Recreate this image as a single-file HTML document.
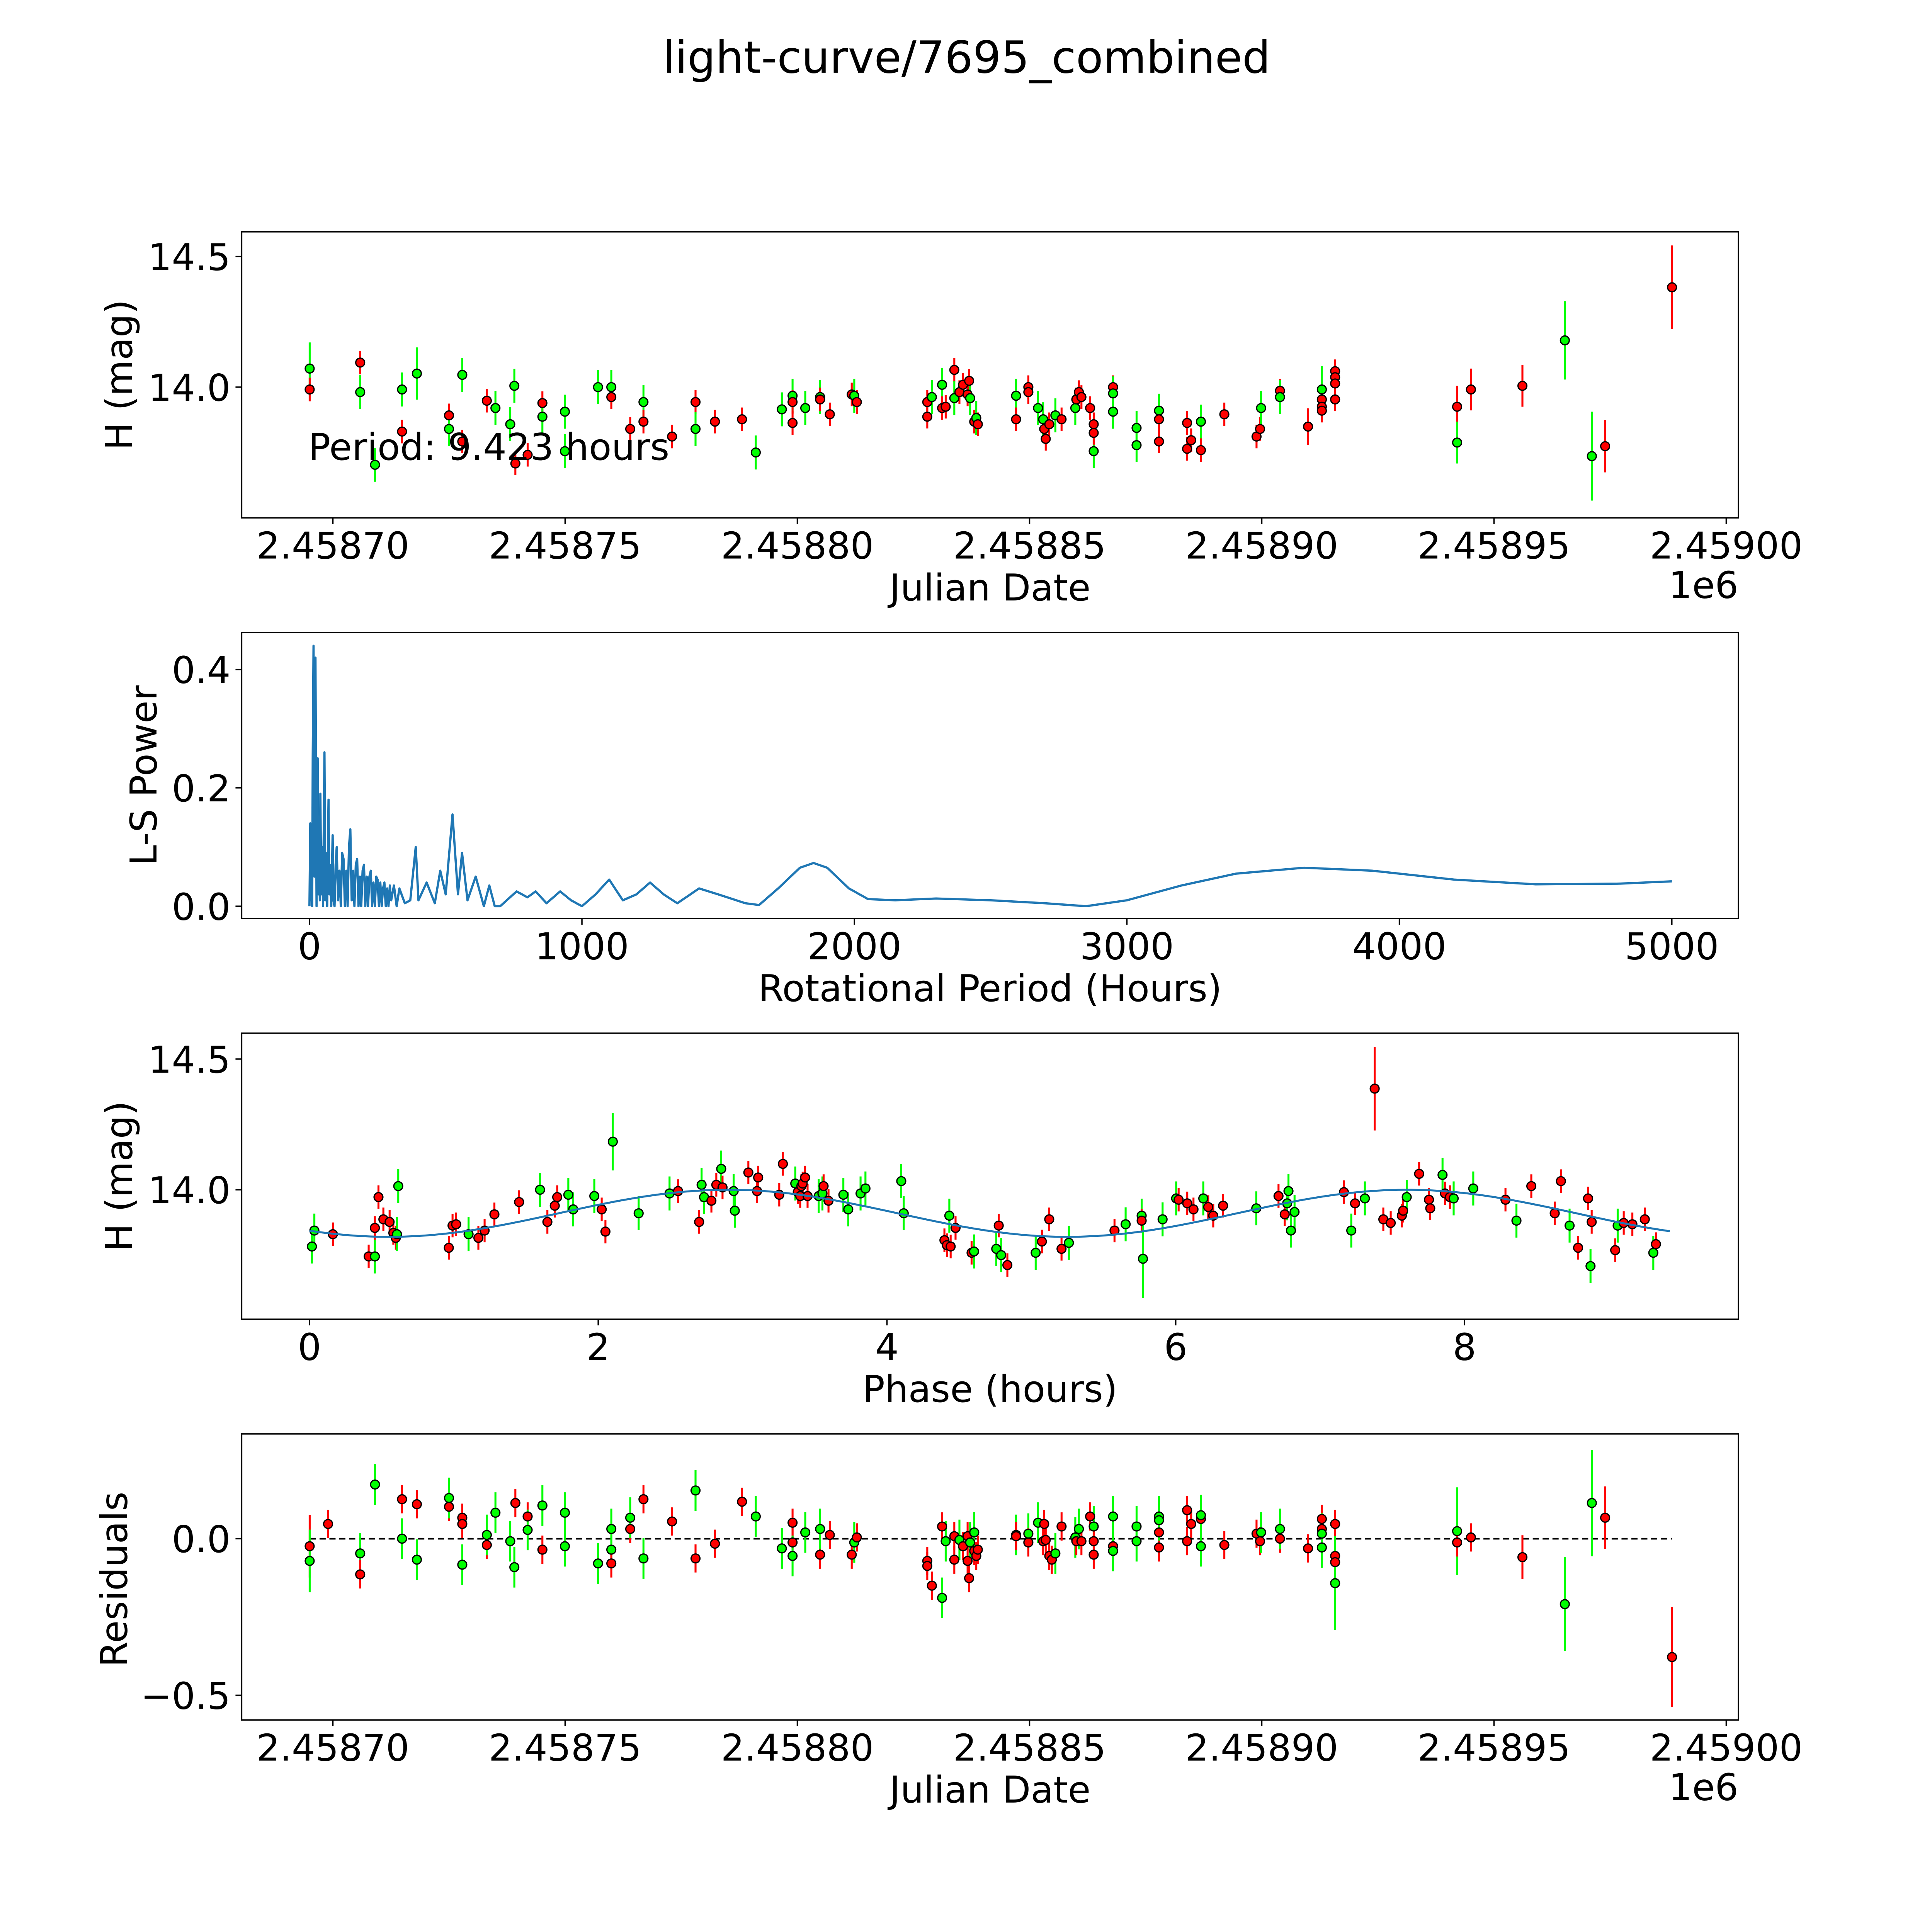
<!DOCTYPE html>
<html><head><meta charset="utf-8"><style>
html,body{margin:0;padding:0;background:#fff;overflow:hidden;width:100vw;height:100vh}
svg{display:block;position:absolute;left:0;top:0;width:100vw;height:100vh}
text{font-family:"DejaVu Sans","Liberation Sans",sans-serif;fill:#000}
</style></head><body>
<svg id="fig" xmlns="http://www.w3.org/2000/svg" viewBox="0 0 1567 1567" preserveAspectRatio="none">
<rect x="0" y="0" width="1567" height="1567" fill="#fff"/>
<text x="784" y="59" font-size="36" text-anchor="middle">light-curve/7695_combined</text>
<g id="p1"></g>
<g id="p2"></g>
<g id="p3"></g>
<g id="p4"></g>
</svg>
<script>
// ---- Panel 1: light curve (days since JD 2458700) ----
const lcDay=[-5.0,-5.0,5.88,5.88,9.07,14.89,14.89,18.08,25.00,25.00,27.86,27.86,33.14,35.00,38.19,39.07,39.29,41.93,45.11,45.11,49.95,49.95,57.09,59.95,59.95,64.02,66.87,66.87,73.03,78.08,78.08,82.26,88.09,91.05,96.66,98.97,98.97,98.97,101.71,104.90,104.90,106.99,111.71,112.26,112.81,127.98,127.98,128.97,131.17,131.17,131.94,133.80,133.80,134.90,135.67,136.66,136.99,137.21,138.09,138.53,138.86,147.10,147.10,149.74,149.74,151.83,152.93,153.15,153.48,154.25,155.56,156.89,159.85,160.07,160.62,161.17,163.04,163.81,163.81,163.81,167.98,167.98,167.98,173.04,173.04,177.87,177.87,177.87,183.92,183.92,184.80,186.89,186.89,191.94,198.87,199.63,199.85,203.92,203.92,209.96,212.93,212.93,212.93,212.93,215.79,215.79,215.79,215.79,242.06,242.06,245.03,256.12,265.25,271.07,273.93,288.33];
const lcMag=[14.071,13.991,14.094,13.981,13.703,13.991,13.830,14.052,13.892,13.840,14.047,13.792,13.948,13.920,13.858,14.005,13.708,13.741,13.939,13.887,13.906,13.755,14.000,14.000,13.962,13.840,13.943,13.868,13.811,13.943,13.840,13.868,13.877,13.750,13.915,13.967,13.943,13.863,13.920,13.962,13.953,13.896,13.972,13.967,13.943,13.943,13.887,13.962,14.009,13.920,13.925,14.066,13.958,13.981,14.009,13.972,14.024,13.958,13.868,13.882,13.858,13.967,13.877,14.000,13.981,13.920,13.877,13.840,13.802,13.858,13.892,13.877,13.920,13.953,13.981,13.962,13.920,13.858,13.755,13.825,14.000,13.976,13.906,13.844,13.778,13.910,13.877,13.792,13.863,13.764,13.797,13.868,13.759,13.896,13.811,13.840,13.920,13.986,13.962,13.849,13.991,13.953,13.925,13.910,14.061,14.038,14.014,13.953,13.925,13.788,13.991,14.005,14.179,13.736,13.774,14.382];
const lcBand="grrgggrgrg"+"grrgggrrrg"+"ggggrrgrrr"+"grrgggrrgg"+"rrrgrrrggr"+"rrgrrrrgrg"+"rgrrrggrrr"+"grgrrrrrgr"+"rggggGrrrr".toLowerCase()+"rgrrrrgrgr"+"grrrrrrr"+"rgrrggrr";
const lcErrOverride={0:0.1,7:0.1,99:0.07,100:0.09,108:0.08,109:0.08,110:0.08,111:0.08,112:0.15,113:0.17,114:0.1,115:0.16};
// ---- Panel 2: periodogram ----
const lsPeriod=[0,3,5,8,10,12,15,18,20,22,26,28,30,33,35,38,40,43,45,50,55,58,60,65,70,73,75,80,85,88,92,96,100,105,110,115,120,125,130,135,140,145,150,155,160,165,170,175,180,185,190,195,200,205,210,215,220,225,230,235,240,245,250,255,260,265,270,275,280,285,290,295,300,310,320,330,350,370,390,400,430,460,480,500,525,545,560,580,610,640,660,680,700,760,800,830,870,920,960,1000,1050,1100,1150,1200,1250,1300,1350,1430,1500,1600,1650,1720,1800,1850,1900,1980,2050,2150,2300,2500,2700,2850,3000,3200,3400,3650,3900,4200,4500,4800,5000];
const lsPower=[0,0.14,0.01,0.1,0,0.25,0.44,0.05,0.3,0.42,0,0.2,0.25,0.02,0.15,0.01,0.19,0.02,0.1,0.0,0.26,0.01,0.09,0.0,0.18,0.02,0.07,0.0,0.12,0.01,0.0,0.07,0.1,0.01,0.06,0.0,0.09,0.08,0.0,0.06,0.0,0.1,0.13,0.01,0.06,0.0,0.07,0.08,0.0,0.05,0.0,0.06,0.07,0.0,0.05,0.0,0.05,0.06,0.0,0.04,0.0,0.05,0.045,0.0,0.04,0.0,0.03,0.04,0.0,0.03,0.0,0.035,0.01,0.035,0.0,0.03,0.005,0.01,0.1,0.01,0.04,0.005,0.06,0.02,0.155,0.02,0.09,0.01,0.05,0,0.035,0,0,0.025,0.015,0.025,0.005,0.025,0.01,0,0.02,0.045,0.01,0.02,0.04,0.02,0.005,0.03,0.02,0.005,0.002,0.03,0.065,0.073,0.065,0.03,0.012,0.01,0.013,0.01,0.005,0,0.01,0.035,0.055,0.065,0.06,0.045,0.037,0.038,0.042];
// ---- Panel 3: phased curve ----
const phPhase=[0.017,0.034,0.162,0.41,0.453,0.453,0.478,0.512,0.555,0.581,0.598,0.606,0.615,0.965,0.991,1.016,1.102,1.170,1.213,1.281,1.452,1.597,1.648,1.699,1.716,1.793,1.827,1.973,2.024,2.050,2.101,2.280,2.494,2.553,2.699,2.716,2.733,2.784,2.818,2.852,2.861,2.938,2.946,3.040,3.100,3.108,3.254,3.279,3.365,3.382,3.399,3.407,3.416,3.433,3.450,3.527,3.553,3.561,3.595,3.698,3.732,3.817,3.851,4.099,4.116,4.398,4.415,4.432,4.441,4.475,4.586,4.603,4.757,4.774,4.791,4.834,5.030,5.073,5.124,5.209,5.260,5.576,5.653,5.764,5.764,5.773,5.909,6.003,6.020,6.080,6.123,6.191,6.225,6.260,6.328,6.558,6.712,6.755,6.772,6.781,6.798,6.823,7.165,7.216,7.242,7.310,7.378,7.438,7.489,7.566,7.575,7.600,7.686,7.754,7.763,7.848,7.865,7.899,7.925,8.061,8.284,8.360,8.463,8.625,8.668,8.728,8.787,8.856,8.873,8.881,9.044,9.061,9.103,9.163,9.249,9.308,9.326];
const phMag=[13.783,13.844,13.830,13.745,13.745,13.854,13.972,13.887,13.877,13.835,13.816,13.830,14.014,13.778,13.863,13.868,13.830,13.816,13.844,13.906,13.953,14.000,13.877,13.939,13.972,13.981,13.925,13.976,13.925,13.840,14.184,13.910,13.986,13.995,13.877,14.019,13.972,13.958,14.019,14.080,14.009,13.995,13.920,14.066,13.995,14.047,13.981,14.099,14.024,13.991,13.976,14.014,14.024,14.047,13.976,13.976,13.986,14.014,13.958,13.981,13.925,13.986,14.005,14.033,13.910,13.807,13.788,13.901,13.783,13.854,13.759,13.764,13.774,13.863,13.750,13.712,13.759,13.802,13.887,13.774,13.797,13.844,13.868,13.901,13.882,13.736,13.887,13.967,13.962,13.948,13.925,13.967,13.934,13.901,13.939,13.929,13.976,13.906,13.948,13.995,13.844,13.915,13.991,13.844,13.948,13.967,14.387,13.887,13.873,13.901,13.920,13.972,14.061,13.962,13.929,14.057,13.986,13.972,13.967,14.005,13.962,13.882,14.014,13.910,14.033,13.863,13.778,13.967,13.708,13.877,13.769,13.863,13.873,13.868,13.887,13.759,13.792];
const phBand="ggrrgrrrrr"+"rggrrrgrrr"+"rgrrrgggrr"+"gggrrggrrg"+"rggrrrrrgr"+"rrrrrggrrg"+"gggggrrgrr"+"rggrgrgrrr"+"grggrgggrr"+"rgrrrgrrgg"+"ggrgrgrrrr"+"rgrrrgrrgg"+"rgrrrgrrgr"+"rgrrrgr";
const phErrOverride={30:0.11,39:0.07,85:0.15,106:0.16};
const modelMean=13.91, modelAmp=0.09, modelPhase0=2.9, modelHalfPeriod=4.7, periodHours=9.423;
// ---- Panel 4: residuals ----
const resDay=[-5.0,-5.0,-1.04,5.88,5.88,9.07,14.89,14.89,18.08,18.08,25.00,25.00,27.86,27.86,27.86,33.14,33.14,35.00,38.19,39.07,39.29,41.93,41.93,45.11,45.11,49.95,49.95,57.09,59.95,59.95,59.95,64.02,64.02,66.87,66.87,73.03,78.08,78.08,82.26,88.09,91.05,96.66,98.97,98.97,98.97,101.71,104.90,104.90,106.99,111.71,112.26,112.81,127.98,127.98,128.97,131.17,131.17,131.94,133.80,133.80,134.90,135.67,136.66,136.66,136.99,137.21,138.09,138.09,138.53,138.86,147.10,147.10,149.74,149.74,151.83,152.93,153.15,153.48,154.25,154.79,155.56,156.89,159.85,160.07,160.62,161.17,163.04,163.81,163.81,163.81,167.98,167.98,167.98,173.04,173.04,177.87,177.87,177.87,177.87,183.92,183.92,184.80,186.89,186.89,186.89,191.94,198.87,199.63,199.85,203.92,203.92,209.96,212.93,212.93,212.93,212.93,215.79,215.79,215.79,215.79,242.06,242.06,245.03,256.12,265.25,271.07,273.93,288.33];
const resVal=[-0.024,-0.071,0.047,-0.047,-0.114,0.173,0.126,0.0,0.110,-0.067,0.102,0.130,0.067,0.047,-0.083,-0.020,0.012,0.083,-0.008,-0.091,0.114,0.071,0.028,0.106,-0.035,0.083,-0.024,-0.079,0.031,-0.035,-0.079,0.031,0.067,-0.063,0.126,0.055,-0.063,0.154,-0.016,0.118,0.071,-0.031,0.051,-0.012,-0.055,0.020,-0.051,0.031,0.012,-0.051,-0.012,0.004,-0.071,-0.087,-0.150,0.039,-0.189,-0.008,-0.067,0.008,-0.004,-0.024,0.008,-0.071,-0.126,-0.012,-0.039,0.020,-0.055,-0.035,0.012,0.008,0.016,-0.012,0.051,-0.008,0.047,-0.004,-0.055,-0.067,-0.047,0.039,0.004,-0.008,0.031,-0.008,0.071,0.039,-0.008,-0.051,0.071,-0.024,-0.039,0.039,-0.008,0.071,0.020,-0.028,0.059,0.091,-0.008,0.047,0.063,-0.024,0.075,-0.020,0.016,-0.008,0.020,0.0,0.031,-0.031,0.063,0.031,0.016,-0.028,0.047,-0.055,-0.075,-0.142,0.024,-0.012,0.004,-0.059,-0.209,0.114,0.067,-0.378];
const resBand="rgrgrgrgrg"+"rgrrgrgggg"+"rrggrggggg"+"rrggrrrgrr"+"ggrrggrgrr"+"grrrrrggrr"+"grrrrgrgrr"+"grgrgrrrrr"+"grgrgrrgrr"+"grggggrrgr"+"rrrggrrrgr"+"grrrggrrrg"+"grrrggrr";
const resErrOverride={0:0.1,1:0.1,119:0.15,120:0.14,123:0.07,124:0.15,125:0.17,126:0.1,127:0.16};

const NS="http://www.w3.org/2000/svg";
function mk(parent,tag,attrs,name,inter){const e=document.createElementNS(NS,tag);for(const k in attrs)e.setAttribute(k,attrs[k]);


parent.appendChild(e);return e;}
function txt(parent,x,y,s,size,anchor,name,rot){const t=mk(parent,'text',{x:x,y:y,'font-size':size,'text-anchor':anchor||'middle'},name,false);if(rot)t.setAttribute('transform','rotate(-90 '+x+' '+y+')');t.textContent=s;return t;}
const COL={r:'#ff0000',g:'#00ff00'};
const TF=30, LF=30;

function frame(g,L,T,R,B){mk(g,'rect',{x:L,y:T,width:R-L,height:B-T,fill:'none',stroke:'#000','stroke-width':1.1},'plot-frame',false);}
function xticks(g,B,vals,labels,sx){vals.forEach((v,i)=>{const x=sx(v);mk(g,'line',{x1:x,x2:x,y1:B,y2:B+5,stroke:'#000','stroke-width':1.1},'x-tick',false);txt(g,x,B+33,labels[i],TF,'middle','x-tick-label');});}
function yticks(g,L,vals,labels,sy){vals.forEach((v,i)=>{const y=sy(v);mk(g,'line',{x1:L-5,x2:L,y1:y,y2:y,stroke:'#000','stroke-width':1.1},'y-tick',false);txt(g,L-9,y+11,labels[i],TF,'end','y-tick-label');});}
function points(g,xs,ys,bands,ov,sx,sy,scaleErr,name){const n=Math.min(xs.length,ys.length);
for(let i=0;i<n;i++){const b=bands[i]||'r';const e=ov[i]!==undefined?ov[i]:(b==='g'?0.065:0.045);const x=sx(xs[i]);
mk(g,'line',{x1:x,x2:x,y1:sy(ys[i]+e),y2:sy(ys[i]-e),stroke:COL[b],'stroke-width':1.6},name+'-errorbar',false);}
for(let i=0;i<n;i++){const b=bands[i]||'r';mk(g,'circle',{cx:sx(xs[i]),cy:sy(ys[i]),r:3.6,fill:COL[b],stroke:'#000','stroke-width':1},name+'-point',false);}}

const jdVals=[0,50,100,150,200,250,300], jdLabels=['2.45870','2.45875','2.45880','2.45885','2.45890','2.45895','2.45900'];
const jdX=d=>270+d*3.767;
// Panel 1
(function(){const g=document.getElementById('p1');const L=196,T=188,R=1410,B=420;
const sx=jdX, sy=m=>314-(m-14)*212;
points(g,lcDay,lcMag,lcBand,lcErrOverride,sx,sy,1,'lightcurve');
frame(g,L,T,R,B);xticks(g,B,jdVals,jdLabels,sx);yticks(g,L,[14.0,14.5],['14.0','14.5'],sy);
txt(g,803,487,'Julian Date',LF,'middle','x-axis-title');txt(g,1410,485,'1e6',TF,'end','x-offset-label');
txt(g,107,304,'H (mag)',LF,'middle','y-axis-title',true);
txt(g,250,373,'Period: 9.423 hours',LF,'start','period-annotation');})();
// Panel 2
(function(){const g=document.getElementById('p2');const L=196,T=513,R=1410,B=745;
const sx=p=>251+p*0.221, sy=w=>735-w*480;
let d='';lsPeriod.forEach((p,i)=>{d+=(i?'L':'M')+sx(p).toFixed(2)+' '+sy(lsPower[i]).toFixed(2);});
mk(g,'path',{d:d,fill:'none',stroke:'#1f77b4','stroke-width':1.8,'stroke-linejoin':'round'},'periodogram-line',false);
frame(g,L,T,R,B);xticks(g,B,[0,1000,2000,3000,4000,5000],['0','1000','2000','3000','4000','5000'],sx);
yticks(g,L,[0,0.2,0.4],['0.0','0.2','0.4'],sy);
txt(g,803,812,'Rotational Period (Hours)',LF,'middle','x-axis-title');txt(g,127,629,'L-S Power',LF,'middle','y-axis-title',true);})();
// Panel 3
(function(){const g=document.getElementById('p3');const L=196,T=838,R=1410,B=1070;
const sx=p=>251+p*117.1, sy=m=>965-(m-14)*212;
points(g,phPhase,phMag,phBand,phErrOverride,sx,sy,1,'phase');
let d='';for(let i=0;i<=200;i++){const p=periodHours*i/200;const m=modelMean+modelAmp*Math.cos(2*Math.PI*(p-modelPhase0)/modelHalfPeriod);d+=(i?'L':'M')+sx(p).toFixed(2)+' '+sy(m).toFixed(2);}
mk(g,'path',{d:d,fill:'none',stroke:'#1f77b4','stroke-width':1.6},'model-curve',false);
frame(g,L,T,R,B);xticks(g,B,[0,2,4,6,8],['0','2','4','6','8'],sx);yticks(g,L,[14.0,14.5],['14.0','14.5'],sy);
txt(g,803,1137,'Phase (hours)',LF,'middle','x-axis-title');txt(g,107,954,'H (mag)',LF,'middle','y-axis-title',true);})();
// Panel 4
(function(){const g=document.getElementById('p4');const L=196,T=1163,R=1410,B=1395;
const sx=jdX, sy=r=>1248-r*254;
mk(g,'line',{x1:sx(-5),x2:sx(288.33),y1:sy(0),y2:sy(0),stroke:'#000','stroke-width':1.4,'stroke-dasharray':'5,3'},'zero-line',false);
points(g,resDay,resVal,resBand,resErrOverride,sx,sy,1,'residual');
frame(g,L,T,R,B);xticks(g,B,jdVals,jdLabels,sx);yticks(g,L,[-0.5,0.0],['\u22120.5','0.0'],sy);
txt(g,803,1462,'Julian Date',LF,'middle','x-axis-title');txt(g,1410,1460,'1e6',TF,'end','x-offset-label');
txt(g,103,1281,'Residuals',LF,'middle','y-axis-title',true);})();
</script>
</body></html>
